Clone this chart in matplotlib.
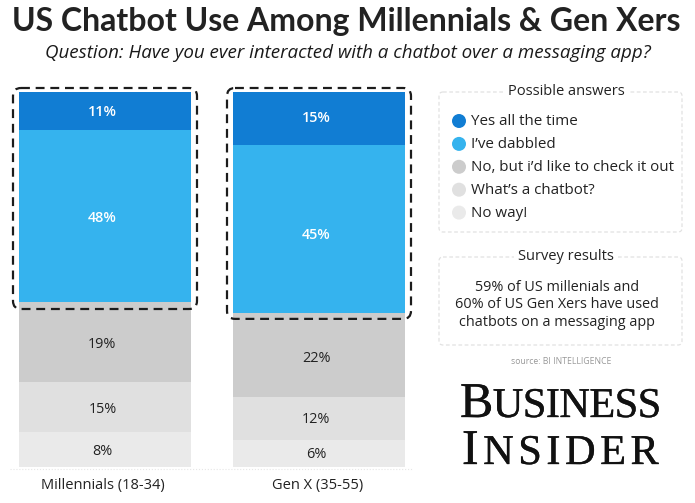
# -*- coding: utf-8 -*-
import matplotlib
matplotlib.use("Agg")
import matplotlib.pyplot as plt
import matplotlib.patheffects as pe
from matplotlib.patches import FancyBboxPatch, Circle

W, H = 695, 503

groups = ["Millennials (18-34)", "Gen X (35-55)"]
answers = ["Yes all the time", "I’ve dabbled", "No, but i’d like to check it out",
           "What’s a chatbot?", "No way!"]
colors = ["#117dd3", "#35b3ee", "#cccccc", "#e0e0e0", "#eaeaea"]

# segment heights as drawn (they don't quite agree with the printed labels)
millennials = [10.1, 45.9, 21.3, 13.3, 9.4]
genx = [14.1, 44.8, 22.4, 11.5, 7.2]
mill_labels = ["11%", "48%", "19%", "15%", "8%"]
genx_labels = ["15%", "45%", "22%", "12%", "6%"]
text_colors = ["white", "white", "#222222", "#222222", "#222222"]

# labels sit a little below the segment centre, in pixels
mill_nudge = [1, 2, 3, 3, 2]
genx_nudge = [0, 6, 4, 1, 1]

plt.rcParams["font.family"] = ["Open Sans", "DejaVu Sans"]

fig = plt.figure(figsize=(W / 100, H / 100), dpi=100)

# overlay in pixel coords, for boxes and text
over = fig.add_axes([0, 0, 1, 1], zorder=3)
over.set_xlim(0, W)
over.set_ylim(H, 0)
over.axis("off")
over.patch.set_alpha(0)

ax = fig.add_axes([19 / W, 1 - 467 / H, 386 / W, 375 / H], zorder=1)
step = 214
half = 86 / step
ax.set_xlim(-half, 1 + half)
ax.set_ylim(0, 100)
for s in ax.spines.values():
    s.set_visible(False)
ax.set_yticks([])
ax.set_xticks([-0.01, 0.995])
ax.set_xticklabels(groups, fontsize=10.5, color="#222222")
ax.tick_params(axis="x", length=0, pad=8)

for x, vals, labs, nudge in [(0, millennials, mill_labels, mill_nudge),
                             (1, genx, genx_labels, genx_nudge)]:
    top = 100
    for v, c, lab, tc, n in zip(vals, colors, labs, text_colors, nudge):
        ax.bar(x, v, bottom=top - v, width=172 / step, color=c, linewidth=0)
        ax.text(x - 0.012, top - v / 2 - n * 100 / 375, lab, ha="center", va="center",
                fontsize=10.4, color=tc, fontweight="semibold" if tc == "white" else "normal")
        top -= v


def ypix(val):
    return 92 + (100 - val) / 100 * 375


# dashed highlight round the top two segments of each bar
for x0, vals in [(13, millennials), (227, genx)]:
    bottom = ypix(100 - vals[0] - vals[1]) + 7
    if x0 == 227:
        bottom -= 1
    over.add_patch(FancyBboxPatch((x0 + 4, 92), 176, bottom - 96,
                                  boxstyle="round,pad=4,rounding_size=8",
                                  fc="none", ec="#1c1c1c", lw=1.6, ls=(0, (4, 2.6))))

over.plot([10, 412], [468.5, 468.5], color="#e6e6e6", lw=0.8, ls=":")

over.text(346.5, 21, "US Chatbot Use Among Millennials & Gen Xers", ha="center", va="center",
          family="Lato", fontsize=23, fontweight="bold", color="#222222")
over.text(348, 53, "Question: Have you ever interacted with a chatbot over a messaging app?",
          ha="center", va="center", fontsize=13.5, style="italic", color="#1a1a1a")

# side panels
for y0, y1, title in [(92, 232, "Possible answers"), (257, 345, "Survey results")]:
    over.add_patch(FancyBboxPatch((443, y0 + 4), 235, y1 - y0 - 8,
                                  boxstyle="round,pad=4,rounding_size=4",
                                  fc="none", ec="#e2e2e2", lw=0.9, ls=(0, (3, 2))))
    over.text(566, y0 - 1, title, ha="center", va="center", fontsize=10.5, color="#222222",
              bbox=dict(fc="white", ec="none", pad=3))

for i, (a, c) in enumerate(zip(answers, colors)):
    y = 121 + i * 22.9
    over.add_patch(Circle((459, y), 7, fc=c, ec="none"))
    over.text(471, y + 0.5, a, ha="left", va="center", fontsize=10.9, color="#222222")

over.text(557, 305, "59% of US millenials and\n60% of US Gen Xers have used\nchatbots on a messaging app",
          ha="center", va="center", fontsize=10.4, color="#222222", linespacing=1.27)
over.text(561, 361, "source: BI INTELLIGENCE", ha="center", va="center", fontsize=6.2, color="#999999")


# wordmark, small caps faked with two sizes and hand tracking
def wordmark(word, x, y, tracking):
    for i, ch in enumerate(word):
        t = over.text(x, y, ch, ha="left", va="baseline", family="Liberation Serif",
                      fontsize=36 if i == 0 else 30.5, color="#111111",
                      path_effects=[pe.withStroke(linewidth=0.25, foreground="#111111")])
        fig.canvas.draw()
        x += t.get_window_extent().width + tracking


wordmark("BUSINESS", 460, 417, -0.6)
wordmark("INSIDER", 462, 464, 4.5)

fig.savefig("out.png", dpi=100, facecolor="white")
